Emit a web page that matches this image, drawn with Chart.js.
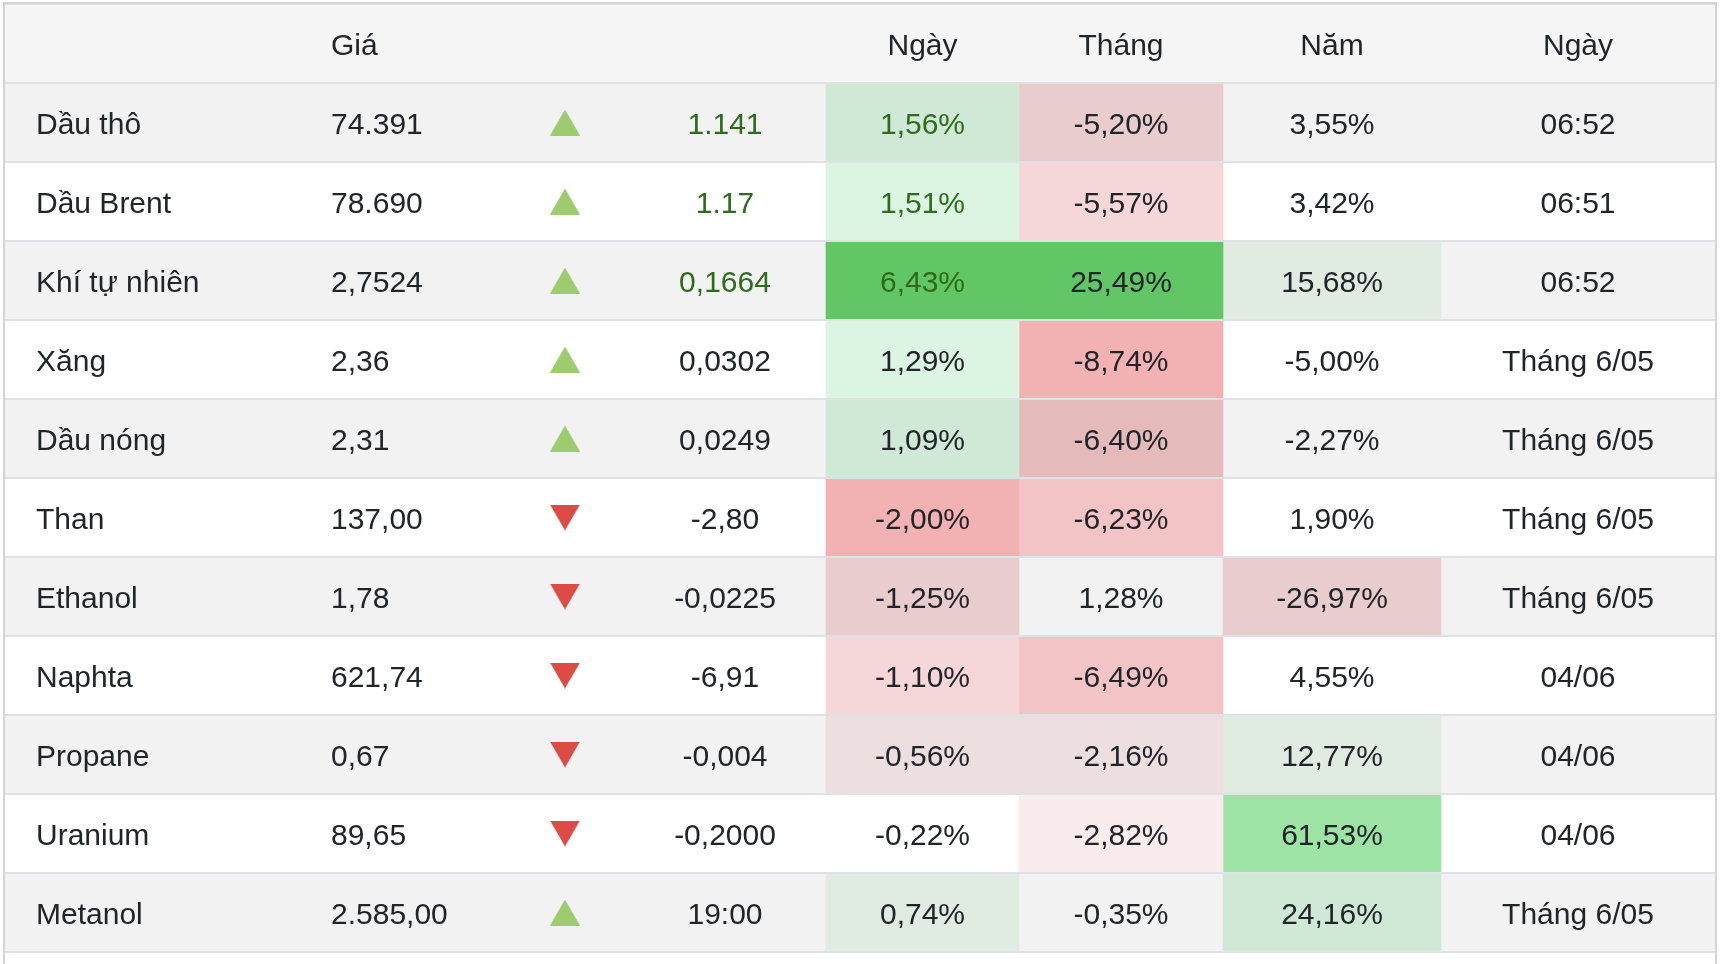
<!DOCTYPE html>
<html lang="vi">
<head>
<meta charset="utf-8">
<title>Năng lượng</title>
<script src="https://cdn.jsdelivr.net/npm/chart.js@4/dist/chart.umd.min.js"></script>
<style>
    html, body { margin: 0; padding: 0; background: #ffffff; }
    canvas { display: block; }
</style>
</head>
<body>
<canvas id="energy-table" width="1728" height="964"></canvas>
<script>
/**
 * Dữ liệu bảng giá năng lượng
 */
const COMMODITIES = ['Dầu thô', 'Dầu Brent', 'Khí tự nhiên', 'Xăng', 'Dầu nóng', 'Than',
    'Ethanol', 'Naphta', 'Propane', 'Uranium', 'Metanol'];
const PRICES = ['74.391', '78.690', '2,7524', '2,36', '2,31', '137,00', '1,78', '621,74',
    '0,67', '89,65', '2.585,00'];
const CHANGES = ['1.141', '1.17', '0,1664', '0,0302', '0,0249', '-2,80', '-0,0225', '-6,91',
    '-0,004', '-0,2000', '19:00'];
const DAY_PCT = [1.56, 1.51, 6.43, 1.29, 1.09, -2.00, -1.25, -1.10, -0.56, -0.22, 0.74];
const MONTH_PCT = [-5.20, -5.57, 25.49, -8.74, -6.40, -6.23, 1.28, -6.49, -2.16, -2.82, -0.35];
const YEAR_PCT = [3.55, 3.42, 15.68, -5.00, -2.27, 1.90, -26.97, 4.55, 12.77, 61.53, 24.16];
const UPDATED = ['06:52', '06:51', '06:52', 'Tháng 6/05', 'Tháng 6/05', 'Tháng 6/05',
    'Tháng 6/05', '04/06', '04/06', '04/06', 'Tháng 6/05'];
const COLUMN_TITLES = ['', 'Giá', '', '', 'Ngày', 'Tháng', 'Năm', 'Ngày'];

/**
 * Kiểu dáng (màu nền ô theo mức tăng / giảm)
 */
const TINTS = {
    g1: '#edf9ef', g2: '#dcf5e2', g3: '#9de3a5', g4: '#69d16c',
    r1: '#faebec', r2: '#f6d7d9', r3: '#f2c4c5', r4: '#f2b1b2'
};
const DAY_TINT = ['g2', 'g2', 'g4', 'g2', 'g2', 'r4', 'r2', 'r2', 'r1', '', 'g1'];
const MONTH_TINT = ['r2', 'r2', 'g4', 'r4', 'r3', 'r3', '', 'r3', 'r1', 'r1', ''];
const YEAR_TINT = ['', '', 'g1', '', '', '', 'r2', '', 'g1', 'g3', 'g2'];
const FLASH_ROWS = [0, 1, 2]; // các dòng vừa cập nhật (chữ xanh)

const TEXT_COLOR = '#212529';
const FLASH_COLOR = '#2f6b1c';
const UP_COLOR = '#9ccc6e';
const DOWN_COLOR = '#dc4b45';
const FONT = '30px "Liberation Sans", Arial, sans-serif';

// bố cục cột (đơn vị của trục x = px tính từ mép trái bảng)
const TABLE_W = 1710;
const COL = {
    name: 31, price: 326, arrow: 560, change: 720,
    day: [821, 1014], month: [1014, 1218], year: [1218, 1436], time: [1436, 1710]
};

const ROW_KEYS = ['__header__', ...COMMODITIES];
const fmtPct = v => v.toFixed(2).replace('.', ',') + '%';
const mid = r => (r[0] + r[1]) / 2;

// mũi tên tam giác dùng làm pointStyle
function makeTriangle(up, color) {
    const c = document.createElement('canvas');
    c.width = 30; c.height = 26;
    const g = c.getContext('2d');
    g.fillStyle = color;
    g.beginPath();
    if (up) {
        g.moveTo(15, 0); g.lineTo(30, 26); g.lineTo(0, 26);
    } else {
        g.moveTo(0, 0); g.lineTo(30, 0); g.lineTo(15, 26);
    }
    g.closePath();
    g.fill();
    return c;
}
const UP_ICON = makeTriangle(true, UP_COLOR);
const DOWN_ICON = makeTriangle(false, DOWN_COLOR);

function heatDataset(range, tints) {
    return {
        label: 'heat',
        order: 3,
        grouped: false,
        data: ROW_KEYS.map((k, i) => (i > 0 && tints[i - 1]) ? range : null),
        backgroundColor: ROW_KEYS.map((k, i) => i > 0 && tints[i - 1] ? TINTS[tints[i - 1]] : 'rgba(0,0,0,0)'),
        barPercentage: 1,
        categoryPercentage: 1,
        borderWidth: 0
    };
}

// vẽ chữ trong các ô
const cellTextPlugin = {
    id: 'cellText',
    afterDatasetsDraw(chart) {
        const { ctx, scales: { x, y } } = chart;
        ctx.save();
        ctx.font = FONT;
        ctx.textBaseline = 'middle';
        const put = (text, pos, row, align, color) => {
            ctx.fillStyle = color || TEXT_COLOR;
            ctx.textAlign = align;
            ctx.fillText(text, x.getPixelForValue(pos), y.getPixelForValue(row) + 3);
        };
        // tiêu đề
        const titlePos = [COL.name, COL.price, COL.arrow, COL.change,
            mid(COL.day), mid(COL.month), mid(COL.year), mid(COL.time)];
        COLUMN_TITLES.forEach((t, c) => {
            if (t) put(t, titlePos[c], 0, c <= 1 ? 'left' : 'center');
        });
        COMMODITIES.forEach((name, i) => {
            const row = i + 1;
            const flash = FLASH_ROWS.includes(i) ? FLASH_COLOR : TEXT_COLOR;
            put(name, COL.name, row, 'left');
            put(PRICES[i], COL.price, row, 'left');
            put(CHANGES[i], COL.change, row, 'center', flash);
            put(fmtPct(DAY_PCT[i]), mid(COL.day), row, 'center', flash);
            put(fmtPct(MONTH_PCT[i]), mid(COL.month), row, 'center');
            put(fmtPct(YEAR_PCT[i]), mid(COL.year), row, 'center');
            put(UPDATED[i], mid(COL.time), row, 'center');
        });
        ctx.restore();
    },
    afterDraw(chart) {
        // khung ngoài của bảng
        const { ctx, chartArea: a } = chart;
        ctx.save();
        ctx.strokeStyle = '#d4d4d4';
        ctx.lineWidth = 2;
        ctx.beginPath();
        ctx.moveTo(a.left - 1, chart.height);
        ctx.lineTo(a.left - 1, a.top - 1);
        ctx.lineTo(a.right + 1, a.top - 1);
        ctx.lineTo(a.right + 1, chart.height);
        ctx.stroke();
        ctx.restore();
    }
};

new Chart(document.getElementById('energy-table'), {
    type: 'bar',
    data: {
        labels: ROW_KEYS,
        datasets: [
            {
                label: 'nền',
                order: 4,
                grouped: false,
                data: ROW_KEYS.map(() => [0, TABLE_W]),
                backgroundColor: ROW_KEYS.map((k, i) => i === 0 ? '#f5f5f5' : '#ffffff'),
                barPercentage: 1,
                categoryPercentage: 1,
                borderWidth: 0
            },
            heatDataset(COL.day, DAY_TINT),
            heatDataset(COL.month, MONTH_TINT),
            heatDataset(COL.year, YEAR_TINT),
            {
                label: 'sọc',
                order: 2,
                grouped: false,
                data: ROW_KEYS.map((k, i) => (i > 0 && (i - 1) % 2 === 0) ? [0, TABLE_W] : null),
                backgroundColor: 'rgba(0,0,0,0.05)',
                barPercentage: 1,
                categoryPercentage: 1,
                borderWidth: 0
            },
            {
                type: 'scatter',
                label: 'xu hướng',
                order: 1,
                data: COMMODITIES.map(c => ({ x: COL.arrow, y: c })),
                pointStyle: ctx => DAY_PCT[ctx.dataIndex] >= 0 ? UP_ICON : DOWN_ICON,
                pointRadius: 13,
                showLine: false
            }
        ]
    },
    options: {
        indexAxis: 'y',
        responsive: false,
        animation: false,
        devicePixelRatio: 1,
        events: [],
        layout: { autoPadding: false, padding: { left: 5, right: 13, top: 4, bottom: 12 } },
        plugins: {
            legend: { display: false },
            tooltip: { enabled: false }
        },
        scales: {
            x: { type: 'linear', min: 0, max: TABLE_W, display: false },
            y: {
                type: 'category',
                offset: true,
                afterFit: s => { s.width = 0; },
                grid: { offset: true, z: 1, color: '#dee2e6', lineWidth: 2, drawTicks: false },
                border: { display: false },
                ticks: { display: false }
            }
        }
    },
    plugins: [cellTextPlugin]
});
</script>
</body>
</html>
